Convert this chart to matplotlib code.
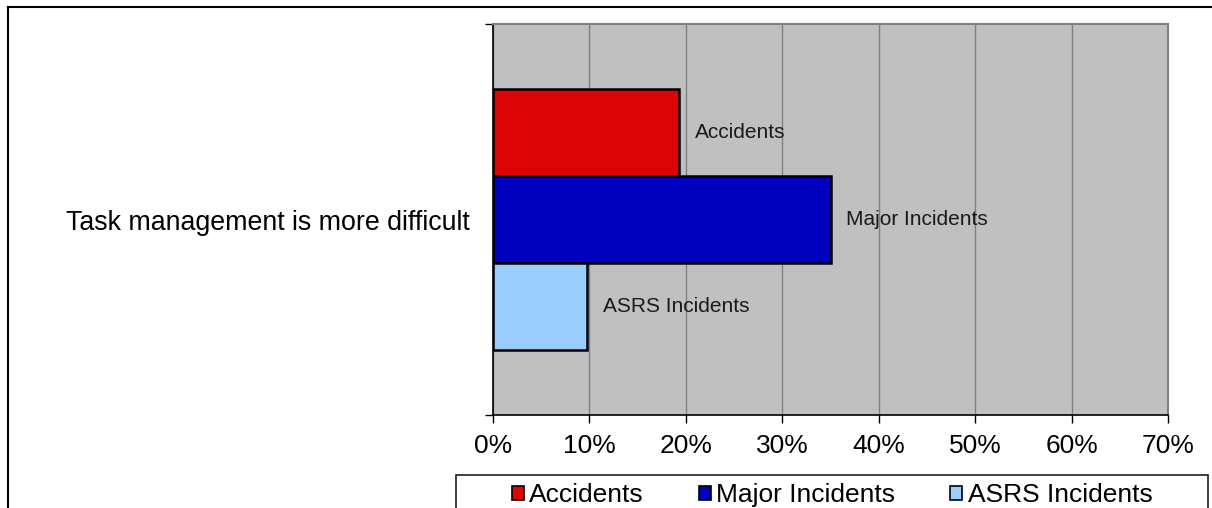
import matplotlib.pyplot as plt
from matplotlib.lines import Line2D
from matplotlib.patches import Rectangle
from matplotlib.ticker import PercentFormatter

category = "Task management is more difficult"
series = ["Accidents", "Major Incidents", "ASRS Incidents"]
values = [19.3, 35.0, 9.7]
colors = ["#DC0404", "#0000C0", "#99CCFF"]
xticks = [0, 10, 20, 30, 40, 50, 60, 70]

plt.rcParams['font.family'] = ['Liberation Sans', 'DejaVu Sans']

W, H = 1212, 508
fig = plt.figure(figsize=(W / 100, H / 100), dpi=100)
ax = fig.add_axes([493 / W, 1 - 415 / H, 675 / W, 391 / H])
ax.set_facecolor("#C0C0C0")

bar_h = 0.2225
centers = [bar_h, 0, -bar_h]
for name, val, col, yc in zip(series, values, colors, centers):
    ax.barh(yc, val, height=bar_h, color=col, edgecolor="black", linewidth=1.8, label=name, zorder=3)
    ax.annotate(name, (val, yc), xytext=(11.5, 0), textcoords="offset points",
                va="center", ha="left", fontsize=15, color="#1a1a1a")

ax.set_xlim(0, 70)
ax.set_ylim(-0.5, 0.5)
ax.set_xticks(xticks)
ax.xaxis.set_major_formatter(PercentFormatter(decimals=0))
ax.grid(axis="x", color="#808080", linewidth=1, zorder=0)
ax.set_axisbelow(True)
ax.tick_params(axis="x", labelsize=19, length=6, width=1, pad=8)

ax.set_yticks([-0.5, 0.5])
ax.set_yticklabels([])
ax.set_yticks([0], [category], minor=True)
ax.tick_params(axis="y", which="minor", length=0, labelsize=19.3, pad=16.5)
ax.tick_params(axis="y", which="major", length=6, width=1)

for s in ["top", "right"]:
    ax.spines[s].set_color("#808080")
    ax.spines[s].set_linewidth(1.5)
for s in ["left", "bottom"]:
    ax.spines[s].set_color("black")
    ax.spines[s].set_linewidth(1.2)

# outer chart frame (partly cropped)
fig.add_artist(Line2D([8 / W, 1.0], [1 - 7 / H, 1 - 7 / H], color="black", linewidth=1.5))
fig.add_artist(Line2D([8 / W, 8 / W], [0, 1 - 7 / H], color="black", linewidth=1.5))

# legend box, cut off at the bottom of the picture
fig.add_artist(Rectangle((456 / W, -0.05), (1208 - 456) / W, 0.05 + 1 - 475 / H,
                         transform=fig.transFigure, facecolor="white",
                         edgecolor="#202020", linewidth=1.2))
handles, labels = ax.get_legend_handles_labels()
leg = fig.legend(handles, labels, loc="upper center", bbox_to_anchor=(832 / W, 1 - 462 / H),
                 ncol=3, fontsize=19, frameon=False, handlelength=0.45, handleheight=0.45,
                 handletextpad=0.2, columnspacing=2.1, borderpad=0.3)
for p in leg.get_patches():
    p.set_linewidth(1.2)

fig.savefig("out.png", dpi=100)
